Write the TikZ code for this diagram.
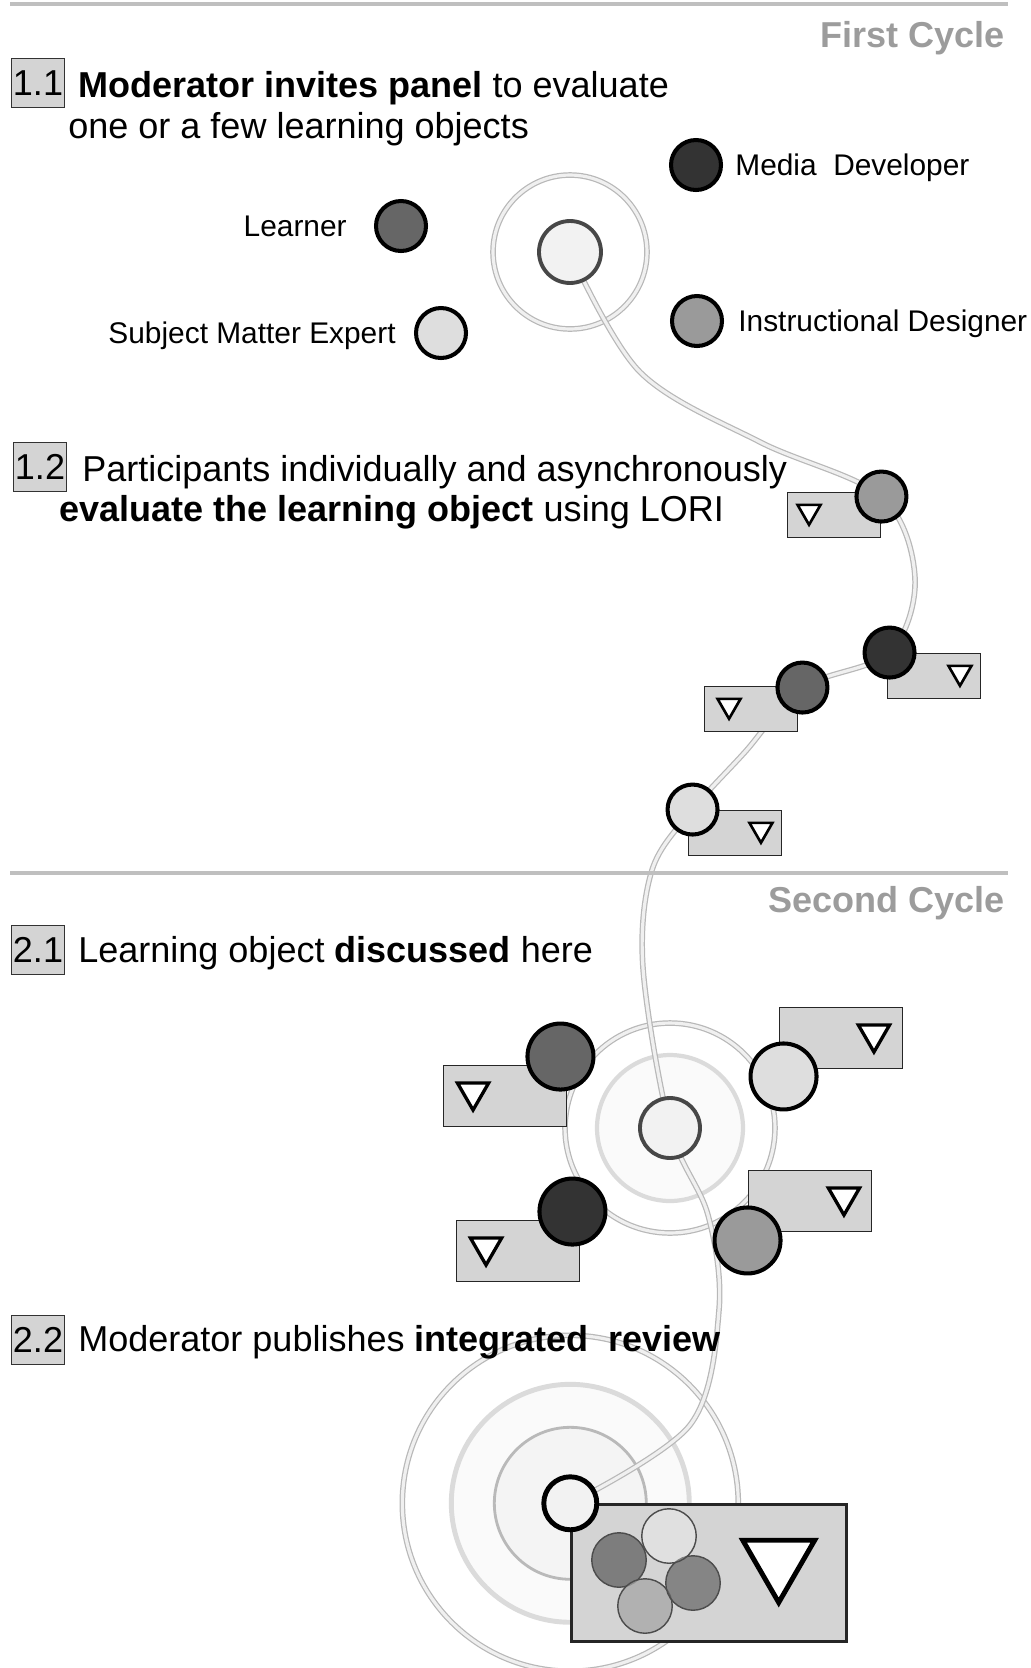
\documentclass[tikz,border=0pt]{standalone}
\usepackage{fontspec}
\setmainfont{Liberation Sans}
\usepackage{tikz}
\usetikzlibrary{positioning,shapes.geometric,backgrounds}
\definecolor{boxgray}{HTML}{D4D4D4}
\definecolor{cyclegray}{HTML}{9C9C9C}
\definecolor{learnerfill}{HTML}{666666}
\definecolor{mediafill}{HTML}{333333}
\definecolor{instrfill}{HTML}{9A9A9A}
\definecolor{expertfill}{HTML}{DEDEDE}
\definecolor{modfill}{HTML}{F2F2F2}
\definecolor{trailgray}{HTML}{B8B8B8}
\newcommand{\captionsize}{\fontsize{20.5}{24}\selectfont}
\newcommand{\tagsize}{\fontsize{17}{20}\selectfont}
\tikzset{
  stepbox/.style={draw=black!80,fill=boxgray,line width=1.1pt,
                  minimum width=1.06cm,minimum height=0.98cm,
                  inner sep=0pt,font=\captionsize},
  caption/.style={anchor=base west,inner sep=0pt,font=\captionsize},
  cyclehead/.style={anchor=base east,inner sep=0pt,text=cyclegray,
                    font=\captionsize\bfseries},
  tag/.style={inner sep=0pt,font=\tagsize,text height=12pt,text depth=0pt},
  person/.style={circle,draw=black,line width=2.3pt,inner sep=0pt,minimum size=1.0cm},
  learner/.style={person,fill=learnerfill},
  media/.style={person,fill=mediafill},
  instr/.style={person,fill=instrfill},
  expert/.style={person,fill=expertfill},
  moderator/.style={circle,draw=black!72,line width=2.2pt,fill=modfill,
                    inner sep=0pt,minimum size=1.24cm},
  lori/.style={draw=black!85,fill=boxgray,line width=1.1pt,inner sep=0pt,
               minimum width=1.86cm,minimum height=0.9cm},
  vote/.style={regular polygon,regular polygon sides=3,shape border rotate=180,
               draw=black,fill=white,line width=1.5pt,inner sep=0pt,minimum size=0.53cm},
  mix/.style={circle,draw=black!70,line width=0.8pt,inner sep=0pt,
              minimum size=1.09cm,fill opacity=0.75},
  wide/.style={minimum width=2.46cm,minimum height=1.22cm},
  bigdot/.style={minimum size=1.32cm},
  bigvote/.style={minimum size=0.72cm,line width=1.9pt},
  trail/.style={draw=trailgray,line width=0.7pt,double=gray!12,double distance=1.8pt},
  halo/.style={draw=gray!28,line width=2.4pt},
  sepline/.style={draw=gray!50,line width=2pt}
}
\begin{document}
\begin{tikzpicture}[x=0.02cm,y=-0.02cm]
  \useasboundingbox (0,0) rectangle (1031,1668);

  % first cycle
  \draw[sepline] (10,4) -- (1008,4);
  \node[cyclehead] (cyc1) at (1005,47) {First Cycle};

  % 1.1 the panel
  \node[stepbox] (b11) at (38,83) {1.1};
  \node[caption] (t11a) at (78,97) {\textbf{Moderator invites panel} to evaluate};
  \node[caption] (t11b) at (68,138) {one or a few learning objects};
  \node[moderator] (m1) at (570,252) {};
  \node[media] (d0) at (696,165) {};
  \node[learner] (l0) at (401,226) {};
  \node[instr] (i0) at (697,321) {};
  \node[expert] (s0) at (441,333) {};
  \node[tag,right=0.24cm of d0] (d0t) {Media\ \ Developer};
  \node[tag,left=0.54cm of l0] (l0t) {Learner};
  \node[tag,right=0.28cm of i0] (i0t) {Instructional Designer};
  \node[tag,left=0.36cm of s0] (s0t) {Subject Matter Expert};

  % 1.2 individual reviews
  \node[stepbox] (b12) at (40,467) {1.2};
  \node[caption] (t12a) at (82,481) {Participants individually and asynchronously};
  \node[caption] (t12b) at (59,521) {\textbf{evaluate the learning object} using LORI};
  \node[lori] (ri1) at (834,515) {};
  \node[lori] (rd1) at (934,676) {};
  \node[lori] (rl1) at (751,709) {};
  \node[lori] (rs1) at (735,833) {};
  \node[vote] (vi1) at ([xshift=0.45cm,yshift=0.07cm]ri1.west) {};
  \node[vote] (vd1) at ([xshift=-0.43cm,yshift=0.07cm]rd1.east) {};
  \node[vote] (vl1) at ([xshift=0.51cm,yshift=0.07cm]rl1.west) {};
  \node[vote] (vs1) at ([xshift=-0.43cm,yshift=0.07cm]rs1.east) {};
  \node[instr] (i1) at ([yshift=-0.1cm]ri1.north east) {};
  \node[media] (d1) at ([xshift=0.06cm]rd1.north west) {};
  \node[learner] (l1) at ([xshift=0.08cm,yshift=-0.04cm]rl1.north east) {};
  \node[expert] (s1) at ([xshift=0.1cm]rs1.north west) {};

  % second cycle
  \draw[sepline] (10,873) -- (1008,873);
  \node[cyclehead] (cyc2) at (1005,912) {Second Cycle};

  % 2.1 discussion
  \node[stepbox] (b21) at (38,950) {2.1};
  \node[caption] (t21) at (78,962) {Learning object \textbf{discussed} here};
  \node[moderator,minimum size=1.2cm] (m2) at (670,1128) {};
  \node[lori,wide] (rl2) at (505,1096) {};
  \node[lori,wide] (rs2) at (841,1038) {};
  \node[lori,wide] (rd2) at (518,1251) {};
  \node[lori,wide] (ri2) at (810,1201) {};
  \node[vote,bigvote] (vl2) at ([xshift=0.61cm,yshift=0.08cm]rl2.west) {};
  \node[vote,bigvote] (vs2) at ([xshift=-0.59cm,yshift=0.08cm]rs2.east) {};
  \node[vote,bigvote] (vd2) at ([xshift=0.61cm,yshift=0.08cm]rd2.west) {};
  \node[vote,bigvote] (vi2) at ([xshift=-0.57cm,yshift=0.08cm]ri2.east) {};
  \node[learner,bigdot] (l2) at ([xshift=-0.14cm,yshift=0.16cm]rl2.north east) {};
  \node[expert,bigdot] (s2) at ([xshift=0.1cm,yshift=-0.14cm]rs2.south west) {};
  \node[media,bigdot] (d2) at ([xshift=-0.16cm,yshift=0.16cm]rd2.north east) {};
  \node[instr,bigdot] (i2) at ([yshift=-0.16cm]ri2.south west) {};

  % 2.2 integrated review
  \node[stepbox] (b22) at (38,1340) {2.2};
  \node[caption] (t22) at (78,1351) {Moderator publishes \textbf{integrated\ \ review}};
  \node[lori,minimum width=5.5cm,minimum height=2.74cm,line width=1.4pt] (rb) at (709,1573) {};
  \node[vote,minimum size=1.66cm,line width=2.8pt] (vb) at ([xshift=-1.38cm,yshift=0.24cm]rb.east) {};
  \node[mix,fill=black!62] (v1) at (619,1560) {};
  \node[mix,fill=black!35] (v4) at (645,1606) {};
  \node[mix,fill=black!58] (v3) at (693,1583) {};
  \node[mix,fill=white,fill opacity=0.3] (v2) at (669,1536) {};
  \node[moderator,draw=black,line width=2.8pt,minimum size=1.06cm] (m3) at (rb.north west) {};

  % trail of the review
  \coordinate (w1) at (640,372);
  \coordinate (w2) at (760,442);
  \coordinate (w3) at (915,578);
  \coordinate (w4) at (745,752);
  \coordinate (w5) at (652,870);
  \coordinate (w6) at (643,968);
  \coordinate (w7) at (708,1215);
  \coordinate (w8) at (719,1310);
  \coordinate (w9) at (690,1425);

  \begin{scope}[on background layer]
    \fill[gray!4] (m2) circle[radius=1.46cm];
    \fill[gray!4] (m3) circle[radius=2.38cm];
    \fill[gray!9] (m3) circle[radius=1.52cm];
    \draw[trail] (m1) circle[radius=1.54cm];
    \draw[trail] (m2) circle[radius=2.1cm];
    \draw[halo] (m2) circle[radius=1.46cm];
    \draw[trail] (m3) circle[radius=3.36cm];
    \draw[halo,line width=2.8pt] (m3) circle[radius=2.38cm];
    \draw[draw=gray!55,line width=1.6pt] (m3) circle[radius=1.52cm];
    \draw[trail] plot[smooth,tension=0.55] coordinates {(m1) (w1) (w2) (i1) (w3) (d1) (l1) (w4) (s1) (w5) (w6) (m2) (w7) (w8) (w9) (m3)};
  \end{scope}
\end{tikzpicture}
\end{document}
